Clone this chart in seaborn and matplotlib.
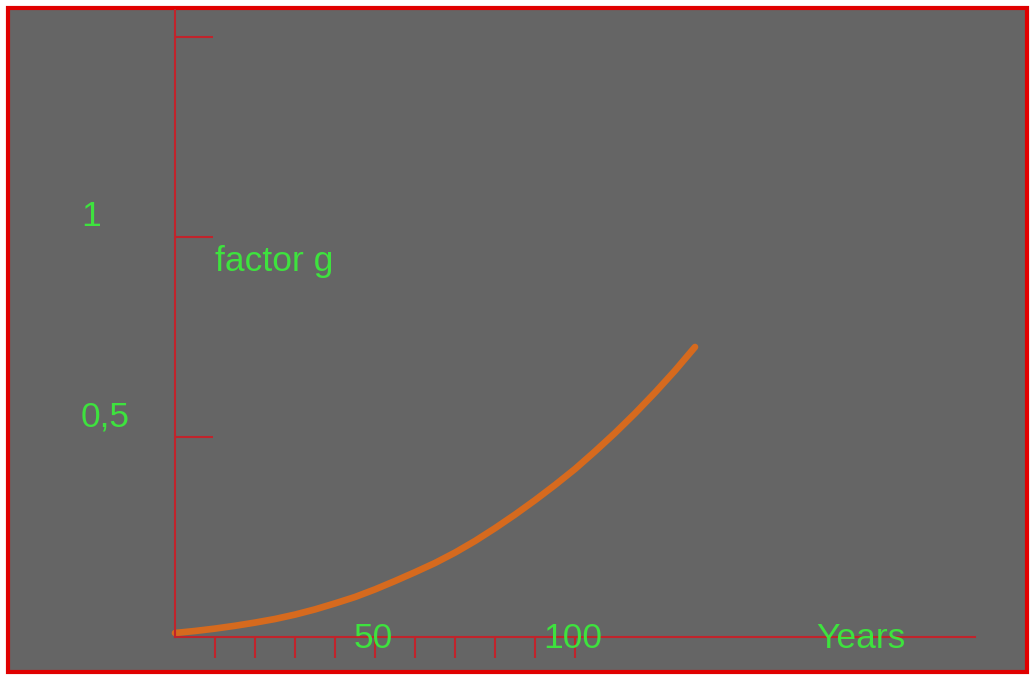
import matplotlib
matplotlib.use('Agg')
import matplotlib.pyplot as plt
from matplotlib.patches import Rectangle
import seaborn as sns

# curve
years = [0, 5, 10, 15, 20, 25, 30, 35, 40, 45, 50, 55, 60, 65, 70, 75, 80,
         85, 90, 95, 100, 105, 110, 115, 120, 125, 130]
factor_g = [0.01, 0.015, 0.021, 0.028, 0.036, 0.045, 0.056, 0.069, 0.084,
            0.100, 0.119, 0.140, 0.162, 0.185, 0.211, 0.240, 0.272, 0.306,
            0.342, 0.380, 0.420, 0.464, 0.510, 0.559, 0.611, 0.666, 0.725]

x_ticks = [10, 20, 30, 40, 50, 60, 70, 80, 90, 100]
y_ticks = [0.5, 1.0, 1.5]
x_labels = {50: '50', 100: '100'}
y_labels = {0.5: '0,5', 1.0: '1'}

sns.set_theme(style='white')
plt.rcParams['font.family'] = ['Liberation Sans', 'DejaVu Sans']

axis_red = '#c0242c'
green = '#3ee23e'
bg = '#656565'

fig = plt.figure(figsize=(10.31, 6.75), dpi=100)
fig.patch.set_facecolor('white')
fig.patches.append(Rectangle((8 / 1031, 3 / 675), 1019 / 1031, 664 / 675,
                             transform=fig.transFigure, facecolor=bg,
                             edgecolor='#e00000', linewidth=3, zorder=-5))

ax = fig.add_axes([0, 0, 1, 1])
ax.set_zorder(1)
ax.patch.set_alpha(0)
ax.set_xlim(-175 / 4, (1031 - 175) / 4)
ax.set_ylim(-(675 - 637) / 400, 637 / 400)

sns.lineplot(x=years, y=factor_g, ax=ax, color='#d66a1e', linewidth=4.8,
             solid_capstyle='round', solid_joinstyle='round')

for side in ['top', 'right']:
    ax.spines[side].set_visible(False)
ax.spines['left'].set_position(('data', 0))
ax.spines['bottom'].set_position(('data', 0))
ax.spines['left'].set_bounds(0, (637 - 10) / 400)
ax.spines['bottom'].set_bounds(0, 200)
for side in ['left', 'bottom']:
    ax.spines[side].set_color(axis_red)
    ax.spines[side].set_linewidth(1.5)

ax.set_xticks(x_ticks)
ax.set_yticks(y_ticks)
ax.tick_params(axis='y', direction='in', length=27, width=1.5, color=axis_red,
               labelleft=False, left=True)
ax.tick_params(axis='x', direction='out', length=15, width=1.5, color=axis_red,
               labelbottom=False, bottom=True)

for v, s in y_labels.items():
    ax.text(-23.5, v + 0.05, s, color=green, fontsize=25.5, ha='left', va='center')
for v, s in x_labels.items():
    ax.text(v - 0.5, -0.004, s, color=green, fontsize=25.5, ha='center', va='center')
ax.text(171.5, -0.004, 'Years', color=green, fontsize=25.5, ha='center', va='center')
ax.text(10, 0.9375, 'factor g', color=green, fontsize=25.5, ha='left', va='center')

fig.savefig('out.png', dpi=100, facecolor='white')
